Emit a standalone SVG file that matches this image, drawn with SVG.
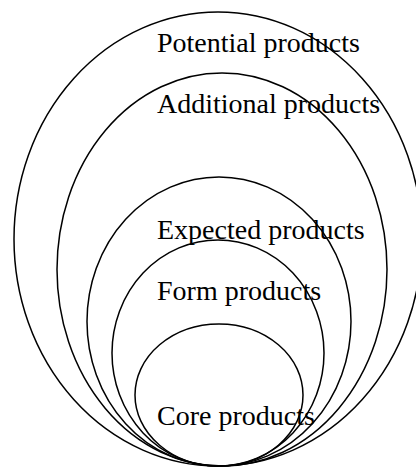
<svg xmlns="http://www.w3.org/2000/svg" width="416" height="468" viewBox="0 0 416 468">
  <style>
    .ring { fill: none; stroke: #000; stroke-width: 1.5; }
    .label { font-family: "Liberation Serif", "Times New Roman", serif; font-size: 28px; fill: #000; }
  </style>
  <rect width="416" height="468" fill="#fff"/>
  <!-- nested product levels, all touching at the bottom -->
  <g id="potential">
    <ellipse class="ring" cx="218" cy="239" rx="204" ry="227"/>
    <text class="label" x="157" y="52">Potential products</text>
  </g>
  <g id="additional">
    <ellipse class="ring" cx="222" cy="269.5" rx="165" ry="196.5"/>
    <text class="label" x="157" y="113">Additional products</text>
  </g>
  <g id="expected">
    <ellipse class="ring" cx="219" cy="321.5" rx="132" ry="144.5"/>
    <text class="label" x="157" y="239">Expected products</text>
  </g>
  <g id="form">
    <ellipse class="ring" cx="218" cy="353" rx="106" ry="113"/>
    <text class="label" x="157" y="300">Form products</text>
  </g>
  <g id="core">
    <ellipse class="ring" cx="219" cy="395" rx="84" ry="71"/>
    <text class="label" x="157" y="425">Core products</text>
  </g>
  <g id="connectors"/>
</svg>
